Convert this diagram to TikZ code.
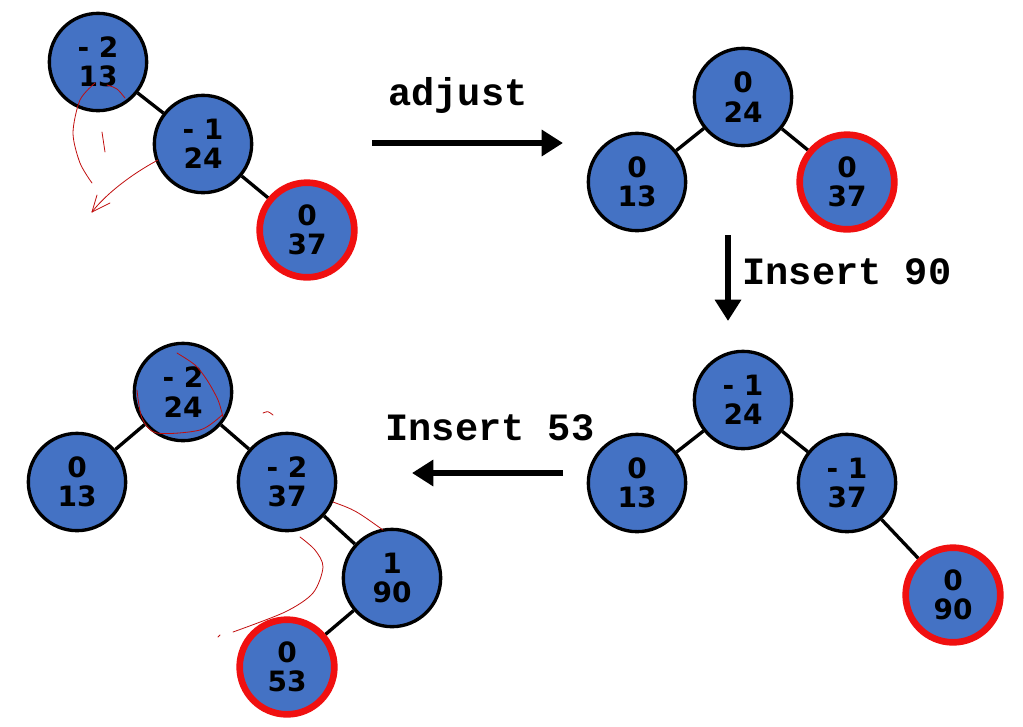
\documentclass[tikz,border=0pt]{standalone}
\usepackage{fontspec}
\newfontfamily\keyfont{DejaVu Sans}
\newfontfamily\opfont{Liberation Mono}
\usetikzlibrary{arrows.meta}

\definecolor{avlblue}{HTML}{4472C4}
\definecolor{avlred}{HTML}{F01010}

\begin{document}
\begin{tikzpicture}[x=0.75pt, y=-0.75pt,
    avl/.style={circle, draw=black, fill=avlblue, line width=2.5pt, minimum size=73pt,
        inner sep=0pt, align=center, font=\keyfont\bfseries\fontsize{21}{22}\selectfont},
    avlnew/.style={avl, draw=avlred, line width=5pt, minimum size=71pt},
    link/.style={line width=2.5pt, black},
    move/.style={line width=4.5pt, -{Triangle[length=16pt, width=19pt]}},
    op/.style={font=\opfont\bfseries\fontsize{29}{32}\selectfont},
    scribble/.style={avlred!80!black, line width=0.6pt, line cap=round}
]

    \useasboundingbox (0,0) rectangle (1023,726);

    % --- TREE 1: AFTER INSERTING 37 ---
    \node[avl] (A-13) at (98, 62) {- 2\\13};
    \node[avl] (A-24) at (203, 144) {- 1\\24};
    \node[avlnew] (A-37) at (307, 230) {0\\37};
    \draw[link] (A-13) -- (A-24);
    \draw[link] (A-24) -- (A-37);

    % --- TREE 2: ROTATED ---
    \node[avl] (B-24) at (743, 97) {0\\24};
    \node[avl] (B-13) at (637, 182) {0\\13};
    \node[avlnew] (B-37) at (847, 182) {0\\37};
    \draw[link] (B-24) -- (B-13);
    \draw[link] (B-24) -- (B-37);

    % --- TREE 3: AFTER INSERTING 90 ---
    \node[avl] (C-24) at (743, 400) {- 1\\24};
    \node[avl] (C-13) at (637, 483) {0\\13};
    \node[avl] (C-37) at (847, 483) {- 1\\37};
    \node[avlnew] (C-90) at (953, 595) {0\\90};
    \draw[link] (C-24) -- (C-13);
    \draw[link] (C-24) -- (C-37);
    \draw[link] (C-37) -- (C-90);

    % --- TREE 4: AFTER INSERTING 53 ---
    \node[avl] (D-24) at (183, 392) {- 2\\24};
    \node[avl] (D-13) at (77, 482) {0\\13};
    \node[avl] (D-37) at (287, 482) {- 2\\37};
    \node[avl] (D-90) at (392, 578) {1\\90};
    \node[avlnew] (D-53) at (287, 667) {0\\53};
    \draw[link] (D-24) -- (D-13);
    \draw[link] (D-24) -- (D-37);
    \draw[link] (D-37) -- (D-90);
    \draw[link] (D-90) -- (D-53);

    % --- STEP ARROWS ---
    \coordinate (adj-s) at (372, 143);
    \coordinate (adj-e) at (563, 143);
    \coordinate (ins90-s) at (728, 235);
    \coordinate (ins90-e) at (728, 321);
    \coordinate (ins53-s) at (563, 473);
    \coordinate (ins53-e) at (412, 473);
    \draw[move] (adj-s) -- (adj-e);
    \draw[move] (ins90-s) -- (ins90-e);
    \draw[move] (ins53-s) -- (ins53-e);
    \node[op] (adj-lbl) at (458, 95) {adjust};
    \node[op] (ins90-lbl) at (847, 272) {Insert 90};
    \node[op] (ins53-lbl) at (490, 428) {Insert 53};

    % hand notes on tree 1
    \draw[scribble] plot[smooth] coordinates {(95,83) (80,100) (73,133) (80,163) (92,183)};
    \draw[scribble] (107,85) .. controls (117,88) .. (125,98);
    \draw[scribble] (102,132) -- (105,152);
    \draw[scribble] (158,160) .. controls (130,175) and (105,195) .. (92,212);
    \draw[scribble] (92,212) -- (97,195);
    \draw[scribble] (92,212) -- (110,203);

    % hand notes on tree 4
    \draw[scribble] plot[smooth] coordinates {(177,353) (195,365) (207,380) (218,400) (223,417)};
    \draw[scribble] plot[smooth] coordinates {(137,390) (142,418) (157,433) (200,430) (222,415)};
    \draw[scribble] (263,413) .. controls (268,411) .. (273,415);
    \draw[scribble] (333,502) .. controls (355,510) .. (383,530);
    \draw[scribble] plot[smooth] coordinates {(300,537) (315,550) (323,567) (313,593) (285,612) (233,632)};
    \draw[scribble] (218,637) -- (220,635);

\end{tikzpicture}
\end{document}
